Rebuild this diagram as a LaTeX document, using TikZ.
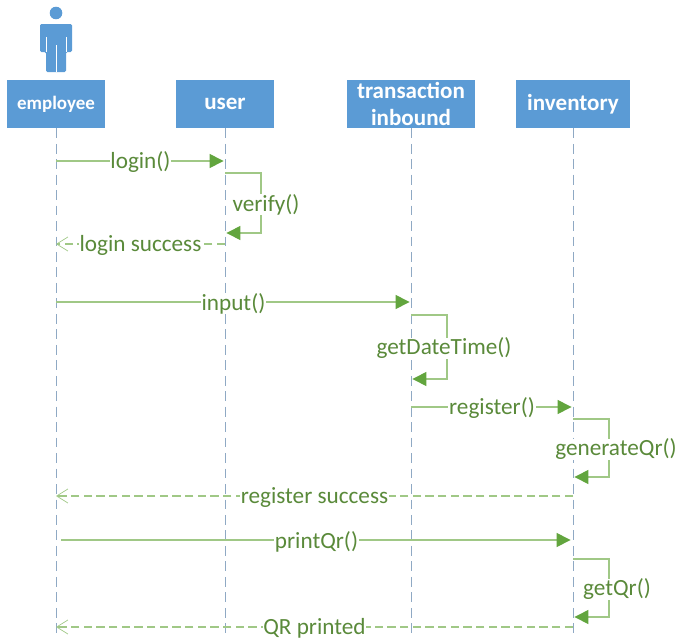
\documentclass[tikz,border=0pt]{standalone}
\usepackage{fontspec}
\setmainfont{Carlito}
\usetikzlibrary{arrows.meta}
\definecolor{boxblue}{HTML}{5B9BD5}
\definecolor{lifeblue}{HTML}{8FA9C4}
\definecolor{msgline}{HTML}{A0C886}
\definecolor{msghead}{HTML}{62A53E}
\definecolor{msgtext}{HTML}{5A8A3A}
\tikzset{
  actorbox/.style={fill=boxblue,text=white,font=\bfseries\fontsize{16.4}{19}\selectfont,align=center,minimum height=48*.025cm,inner sep=0pt},
  lifeline/.style={draw=lifeblue,line width=.5pt,dash pattern=on 7pt off 4pt},
  callmsg/.style={draw=msgline,line width=.8pt,-{Triangle[length=10pt,width=10pt,color=msghead]}},
  backmsg/.style={draw=msgline,line width=.8pt,dash pattern=on 6pt off 3pt,-{Straight Barb[length=8pt,width=10pt,line width=.5pt]}},
  msglabel/.style={fill=white,text=msgtext,font=\fontsize{16.5}{18}\selectfont,inner xsep=.5pt,inner ysep=0pt,yshift=-1pt}
}
\begin{document}
\begin{tikzpicture}[x=.025cm,y=-.025cm]
\useasboundingbox (0,0) rectangle (678,638);
\fill[boxblue] (56,13) circle (6.3);
\fill[boxblue,rounded corners=1pt] (40,52) -- (40,24) -- (72,24) -- (72,52) -- (66,52) -- (66,72) -- (46,72) -- (46,52) -- cycle;
\draw[white,line width=.4pt] (46,37) -- (46,52) (66,37) -- (66,52) (56,45) -- (56,72);
\node[actorbox,minimum width=98*.025cm,font=\bfseries\fontsize{13.5}{15}\selectfont] (employee) at (56,104) {employee};
\node[actorbox,minimum width=98*.025cm] (user) at (225,104) {user};
\node[actorbox,minimum width=128*.025cm] (inbound) at (411,104) {transaction\\inbound};
\node[actorbox,minimum width=114*.025cm] (inventory) at (573,104) {inventory};
\foreach \a in {employee,user,inbound,inventory}
  \draw[lifeline] (\a.south) -- ++(0,508) coordinate (\a end);
% messages
\foreach \n/\x/\y in {a/56/161,b/225/161,c/225/244,d/56/244,e/56/302,f/411/302,g/411/407,h/573/407,i/573/496,j/56/496,k/61/540,l/572/540,m/573/627,n/56/627}
  \coordinate (\n) at (\x,\y);
\foreach \s/\t/\lab in {a/b/login(),e/f/input(),g/h/register(),k/l/printQr()}
  \draw[callmsg,shorten >=1pt] (\s) -- (\t) node[msglabel,midway]{\lab};
\foreach \s/\t/\lab in {c/d/login success,i/j/register success,m/n/QR printed}
  \draw[backmsg] (\s) -- (\t) node[msglabel,midway]{\lab};
% self calls
\foreach \x/\ya/\yb/\lx/\lab in {225/173/233/266/verify(),411/315/379/444/getDateTime(),573/419/477/616/generateQr(),573/559/617/617/getQr()}{
  \coordinate (s) at (\x,\ya);
  \coordinate (t) at (\x,\yb);
  \draw[callmsg,shorten >=1pt] (s) -- ++(36,0) |- (t);
  \node[msglabel] (l\ya) at (\lx,{(\ya+\yb)/2}) {\lab};
}
\end{tikzpicture}
\end{document}
